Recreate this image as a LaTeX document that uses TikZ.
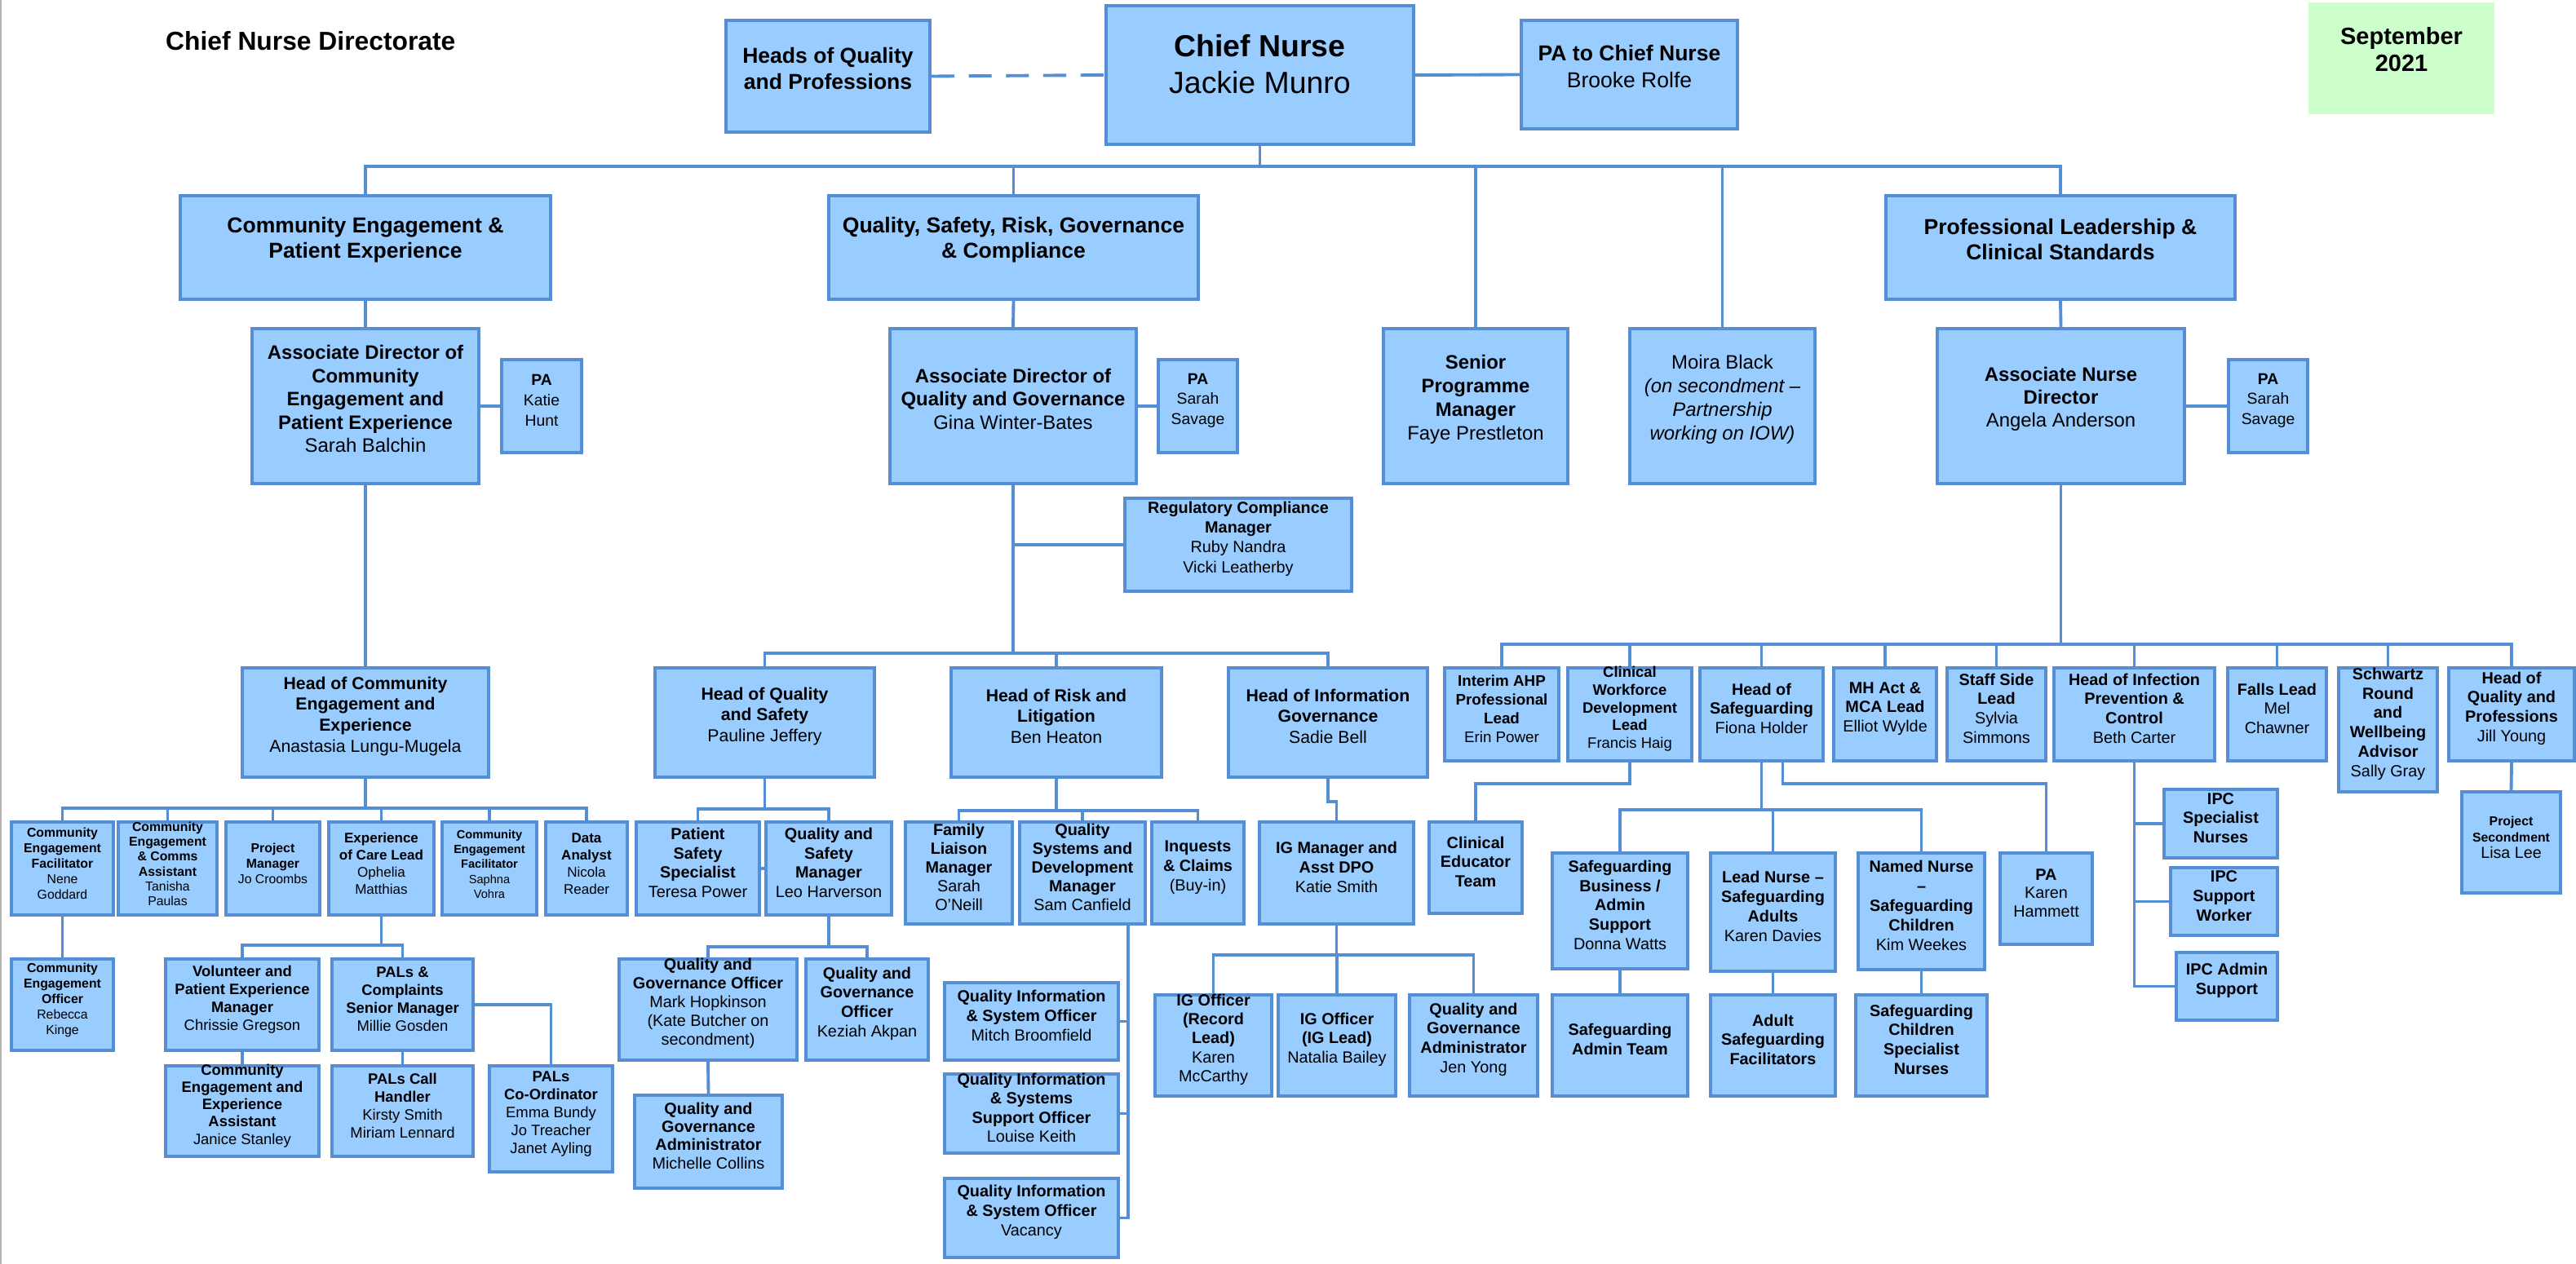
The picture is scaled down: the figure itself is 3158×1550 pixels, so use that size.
\documentclass[tikz,border=0pt]{standalone}
\usepackage{fontspec}
\setmainfont{Liberation Sans}
\usetikzlibrary{fit,calc}
\definecolor{boxblue}{RGB}{153,204,255}
\definecolor{lineblue}{RGB}{85,142,213}
\definecolor{dategreen}{RGB}{204,255,204}
\tikzset{
  bx/.style={draw=lineblue, fill=boxblue, line width=2.2pt, inner sep=0pt, align=center},
  ln/.style={draw=lineblue, line width=2.2pt},
  fsz/.style 2 args={font=\fontsize{#1}{#2}\selectfont\bfseries},
}
\begin{document}
\begin{tikzpicture}[x=0.02cm, y=-0.02cm]
\useasboundingbox (0,0) rectangle (3158,1550);
\draw[gray!60, line width=0.6pt] (1,0) -- (1,1550);
\node[anchor=west, fsz={18.1}{21}] (ttl) at (197,50) {Chief Nurse Directorate};
\node[fill=dategreen, inner sep=0pt, align=center, fsz={16.5}{18.8}, fit={(2830,3)(3058,140)}] (sept) {September\\2021};
\node[bx, fsz={15.1}{17.8}, fit={(890,25)(1140,162)}] (hqpt) {Heads of Quality\\and Professions};
\node[bx, fsz={21.3}{25.6}, fit={(1356,7)(1733,177)}] (chief) {Chief Nurse\\\mdseries Jackie Munro};
\node[bx, fsz={15.1}{18.8}, fit={(1865,25)(2130,158)}] (pacn) {PA to Chief Nurse\\\mdseries Brooke Rolfe};

\node[bx, fsz={15.1}{17.6}, fit={(221,240)(675,367)}] (cepe) {Community Engagement \&\\Patient Experience};
\node[bx, fsz={15.1}{17.6}, fit={(1016,240)(1469,367)}] (qsrg) {Quality, Safety, Risk, Governance\\\& Compliance};
\node[bx, fsz={15.1}{17.6}, fit={(2312,240)(2740,367)}] (plcs) {Professional Leadership \&\\Clinical Standards};

\node[bx, fsz={13.6}{16.2}, fit={(309,403)(587,593)}] (adce) {Associate Director of\\Community\\Engagement and\\Patient Experience\\\mdseries Sarah Balchin};
\node[bx, fsz={11}{14.2}, fit={(615,441)(713,555)}] (pace) {PA\\\mdseries Katie\\\mdseries Hunt};
\node[bx, fsz={13.6}{16.2}, fit={(1091,403)(1393,593)}] (adqg) {Associate Director of\\Quality and Governance\\\mdseries Gina Winter-Bates};
\node[bx, fsz={11}{14.2}, fit={(1420,441)(1517,555)}] (paqg) {PA\\\mdseries Sarah\\\mdseries Savage};
\node[bx, fsz={13.6}{16.5}, fit={(1696,403)(1922,593)}] (spm) {Senior\\Programme\\Manager\\\mdseries Faye Prestleton};
\node[bx, fsz={13.6}{16.5}, fit={(1998,403)(2225,593)}] (moira) {\mdseries Moira Black\\\mdseries\itshape (on secondment –\\\mdseries\itshape Partnership\\\mdseries\itshape working on IOW)};
\node[bx, fsz={13.6}{16.2}, fit={(2375,403)(2678,593)}] (andir) {Associate Nurse\\Director\\\mdseries Angela Anderson};
\node[bx, fsz={11}{14.2}, fit={(2732,441)(2829,555)}] (paand) {PA\\\mdseries Sarah\\\mdseries Savage};
\node[bx, fsz={11.3}{13.7}, fit={(1379,611)(1657,725)}] (rcm) {Regulatory Compliance\\Manager\\\mdseries Ruby Nandra\\\mdseries Vicki Leatherby};

\node[bx, fsz={12.1}{14.6}, fit={(297,819)(599,953)}] (hce) {Head of Community\\Engagement and\\Experience\\\mdseries Anastasia Lungu-Mugela};
\node[bx, fsz={12.1}{14.5}, fit={(803,819)(1072,953)}] (hqs) {Head of Quality\\and Safety\\\mdseries Pauline Jeffery};
\node[bx, fsz={12.1}{14.5}, fit={(1166,819)(1424,953)}] (hrl) {Head of Risk and\\Litigation\\\mdseries Ben Heaton};
\node[bx, fsz={12.1}{14.5}, fit={(1506,819)(1750,953)}] (hig) {Head of Information\\Governance\\\mdseries Sadie Bell};

\node[bx, fsz={9}{10.8}, fit={(14,1008)(139,1122)}] (cef1) {Community\\Engagement\\Facilitator\\\mdseries Nene\\\mdseries Goddard};
\node[bx, fsz={9}{10.4}, fit={(145,1008)(266,1122)}] (cca) {Community\\Engagement\\\& Comms\\Assistant\\\mdseries Tanisha\\\mdseries Paulas};
\node[bx, fsz={9}{10.8}, fit={(277,1008)(392,1122)}] (pm) {Project\\Manager\\\mdseries Jo Croombs};
\node[bx, fsz={9.7}{12}, fit={(403,1008)(532,1122)}] (ecl) {Experience\\of Care Lead\\\mdseries Ophelia\\\mdseries Matthias};
\node[bx, fsz={8.3}{10.5}, fit={(542,1008)(658,1122)}] (cef2) {Community\\Engagement\\Facilitator\\\mdseries Saphna\\\mdseries Vohra};
\node[bx, fsz={9.7}{12}, fit={(669,1008)(769,1122)}] (da) {Data\\Analyst\\\mdseries Nicola\\\mdseries Reader};
\node[bx, fsz={9}{10.8}, fit={(14,1176)(139,1288)}] (ceo) {Community\\Engagement\\Officer\\\mdseries Rebecca\\\mdseries Kinge};
\node[bx, fsz={10.5}{12.5}, fit={(203,1176)(391,1288)}] (vpem) {Volunteer and\\Patient Experience\\Manager\\\mdseries Chrissie Gregson};
\node[bx, fsz={10.5}{12.5}, fit={(407,1176)(580,1288)}] (palsc) {PALs \&\\Complaints\\Senior Manager\\\mdseries Millie Gosden};
\node[bx, fsz={10.5}{12.1}, fit={(203,1307)(391,1418)}] (ceea) {Community\\Engagement and\\Experience\\Assistant\\\mdseries Janice Stanley};
\node[bx, fsz={10.5}{12.5}, fit={(407,1307)(580,1418)}] (pch) {PALs Call\\Handler\\\mdseries Kirsty Smith\\\mdseries Miriam Lennard};
\node[bx, fsz={10.5}{12.5}, fit={(600,1307)(751,1437)}] (pco) {PALs\\Co-Ordinator\\\mdseries Emma Bundy\\\mdseries Jo Treacher\\\mdseries Janet Ayling};

\node[bx, fsz={11.3}{13.4}, fit={(780,1008)(931,1122)}] (pss) {Patient\\Safety\\Specialist\\\mdseries Teresa Power};
\node[bx, fsz={11.3}{13.4}, fit={(939,1008)(1093,1122)}] (qsm) {Quality and\\Safety\\Manager\\\mdseries Leo Harverson};
\node[bx, fsz={11.3}{13.1}, fit={(759,1176)(977,1300)}] (qgo1) {Quality and\\Governance Officer\\\mdseries Mark Hopkinson\\\mdseries (Kate Butcher on\\\mdseries secondment)};
\node[bx, fsz={11.3}{13.6}, fit={(988,1176)(1138,1300)}] (qgo2) {Quality and\\Governance\\Officer\\\mdseries Keziah Akpan};
\node[bx, fsz={11.3}{12.6}, fit={(778,1343)(959,1457)}] (qga1) {Quality and\\Governance\\Administrator\\\mdseries Michelle Collins};

\node[bx, fsz={11.3}{13}, fit={(1110,1008)(1241,1133)}] (flm) {Family\\Liaison\\Manager\\\mdseries Sarah\\\mdseries O'Neill};
\node[bx, fsz={11.3}{13}, fit={(1250,1008)(1404,1133)}] (qsdm) {Quality\\Systems and\\Development\\Manager\\\mdseries Sam Canfield};
\node[bx, fsz={11.3}{13.6}, fit={(1412,1008)(1525,1133)}] (ic) {Inquests\\\& Claims\\\mdseries (Buy-in)};
\node[bx, fsz={11.3}{13.6}, fit={(1158,1205)(1371,1300)}] (qis1) {Quality Information\\\& System Officer\\\mdseries Mitch Broomfield};
\node[bx, fsz={11.3}{13.2}, fit={(1158,1317)(1371,1414)}] (qis2) {Quality Information\\\& Systems\\Support Officer\\\mdseries Louise Keith};
\node[bx, fsz={11.3}{13.6}, fit={(1158,1445)(1371,1542)}] (qis3) {Quality Information\\\& System Officer\\\mdseries Vacancy};

\node[bx, fsz={11.3}{13.6}, fit={(1544,1008)(1733,1133)}] (igm) {IG Manager and\\Asst DPO\\\mdseries Katie Smith};
\node[bx, fsz={11.3}{13.2}, fit={(1416,1220)(1559,1344)}] (igo1) {IG Officer\\(Record\\Lead)\\\mdseries Karen\\\mdseries McCarthy};
\node[bx, fsz={11.3}{13.4}, fit={(1567,1220)(1711,1344)}] (igo2) {IG Officer\\(IG Lead)\\\mdseries Natalia Bailey};
\node[bx, fsz={11.3}{13.6}, fit={(1728,1220)(1885,1344)}] (qga2) {Quality and\\Governance\\Administrator\\\mdseries Jen Yong};

\node[bx, fsz={10.7}{13}, fit={(1771,819)(1911,933)}] (ahp) {Interim AHP\\Professional\\Lead\\\mdseries Erin Power};
\node[bx, fsz={10.5}{12.3}, fit={(1922,819)(2074,933)}] (cwdl) {Clinical\\Workforce\\Development\\Lead\\\mdseries Francis Haig};
\node[bx, fsz={11.3}{13.6}, fit={(2084,819)(2235,933)}] (hos) {Head of\\Safeguarding\\\mdseries Fiona Holder};
\node[bx, fsz={11.3}{13.6}, fit={(2248,819)(2374,933)}] (mha) {MH Act \&\\MCA Lead\\\mdseries Elliot Wylde};
\node[bx, fsz={11.3}{13.6}, fit={(2387,819)(2508,933)}] (ssl) {Staff Side\\Lead\\\mdseries Sylvia\\\mdseries Simmons};
\node[bx, fsz={11.3}{13.6}, fit={(2518,819)(2715,933)}] (hipc) {Head of Infection\\Prevention \&\\Control\\\mdseries Beth Carter};
\node[bx, fsz={11.3}{13.6}, fit={(2731,819)(2852,933)}] (fall) {Falls Lead\\\mdseries Mel\\\mdseries Chawner};
\node[bx, fsz={11.3}{13.6}, fit={(2867,819)(2988,971)}] (swa) {Schwartz\\Round\\and\\Wellbeing\\Advisor\\\mdseries Sally Gray};
\node[bx, fsz={11.3}{13.6}, fit={(3002,819)(3156,933)}] (hqp) {Head of\\Quality and\\Professions\\\mdseries Jill Young};
\node[bx, fsz={9}{11.4}, fit={(3018,971)(3139,1095)}] (proj) {Project\\Secondment\\\mdseries\fontsize{11.2}{13}\selectfont Lisa Lee};

\node[bx, fsz={11.3}{13.2}, fit={(1752,1008)(1866,1120)}] (cet) {Clinical\\Educator\\Team};
\node[bx, fsz={11.3}{13.6}, fit={(1903,1046)(2069,1188)}] (sbas) {Safeguarding\\Business /\\Admin\\Support\\\mdseries Donna Watts};
\node[bx, fsz={11.3}{13.6}, fit={(1903,1220)(2069,1344)}] (sat) {Safeguarding\\Admin Team};
\node[bx, fsz={11.3}{13.6}, fit={(2097,1046)(2250,1191)}] (lnsa) {Lead Nurse –\\Safeguarding\\Adults\\\mdseries Karen Davies};
\node[bx, fsz={11.3}{13.6}, fit={(2097,1220)(2250,1344)}] (asf) {Adult\\Safeguarding\\Facilitators};
\node[bx, fsz={11.3}{13.6}, fit={(2278,1046)(2433,1189)}] (nnsc) {Named Nurse\\–\\Safeguarding\\Children\\\mdseries Kim Weekes};
\node[bx, fsz={11.3}{13.6}, fit={(2275,1220)(2436,1344)}] (scsn) {Safeguarding\\Children\\Specialist\\Nurses};
\node[bx, fsz={11.3}{12.6}, fit={(2452,1046)(2565,1158)}] (pakh) {PA\\\mdseries Karen\\\mdseries Hammett};
\node[bx, fsz={11.3}{13.6}, fit={(2653,968)(2792,1052)}] (ipc1) {IPC\\Specialist\\Nurses};
\node[bx, fsz={11.3}{13.6}, fit={(2661,1064)(2792,1147)}] (ipc2) {IPC\\Support\\Worker};
\node[bx, fsz={11.3}{13.6}, fit={(2668,1168)(2792,1251)}] (ipc3) {IPC Admin\\Support};

\draw[ln, dash pattern=on 16pt off 10pt] (hqpt.east) -- (chief.west);
\draw[ln] (chief.east) -- (pacn.west);
\foreach \n in {cepe,qsrg,spm,moira,plcs} \draw[ln] (chief.south) -- ++(0,25) -| (\n.north);
\draw[ln] (cepe.south) -- (adce.north);
\draw[ln] (adce.east) -- (pace.west);
\draw[ln] (qsrg.south) -- (adqg.north);
\draw[ln] (adqg.east) -- (paqg.west);
\draw[ln] (plcs.south) -- (andir.north);
\draw[ln] (andir.east) -- (paand.west);
\draw[ln] (adqg.south) |- (rcm.west);
\foreach \n in {hqs,hrl,hig} \draw[ln] (adqg.south) -- ++(0,206) -| (\n.north);
\draw[ln] (adce.south) -- (hce.north);
\foreach \n in {cef1,cca,pm,ecl,cef2,da} \draw[ln] (hce.south) -- ++(0,36) -| (\n.north);
\draw[ln] (cef1.south) -- (ceo.north);
\foreach \n in {vpem,palsc} \draw[ln] (ecl.south) -- ++(0,35) -| (\n.north);
\draw[ln] (vpem.south) -- (ceea.north);
\draw[ln] (palsc.south) -- (pch.north);
\draw[ln] (palsc.east) -| (pco.north);
\foreach \n in {pss,qsm} \draw[ln] (hqs.south) -- ++(0,37) -| (\n.north);
\draw[ln] (pss.east) -- (qsm.west);
\foreach \n in {qgo1,qgo2} \draw[ln] (qsm.south) -- ++(0,37) -| (\n.north);
\draw[ln] (qgo1.south) -- (qga1.north);
\foreach \n in {flm,qsdm,ic} \draw[ln] (hrl.south) -- ++(0,39) -| (\n.north);
\foreach \n in {qis1,qis2,qis3} \draw[ln] ($(qsdm.south)+(56,0)$) |- (\n.east);
\draw[ln] (hig.south) -- ++(0,28) -| (igm.north);
\foreach \n in {igo1,igo2,qga2} \draw[ln] (igm.south) -- ++(0,36) -| (\n.north);
\foreach \n in {ahp,cwdl,hos,mha,ssl,hipc,fall,swa,hqp} \draw[ln] (andir.south) -- ++(0,195) -| (\n.north);
\draw[ln] (cwdl.south) -- ++(0,26) -| (cet.north);
\foreach \n in {sbas,lnsa,nnsc} \draw[ln] (hos.south) -- ++(0,58) -| (\n.north);
\draw[ln] ($(hos.south)+(26,0)$) -- ++(0,26) -| (pakh.north);
\draw[ln] (sbas.south) -- (sat.north);
\draw[ln] (lnsa.south) -- (asf.north);
\draw[ln] (nnsc.south) -- (scsn.north);
\foreach \n in {ipc1,ipc2,ipc3} \draw[ln] (hipc.south) |- (\n.west);
\draw[ln] (hqp.south) -- (proj.north);
\end{tikzpicture}
\end{document}
